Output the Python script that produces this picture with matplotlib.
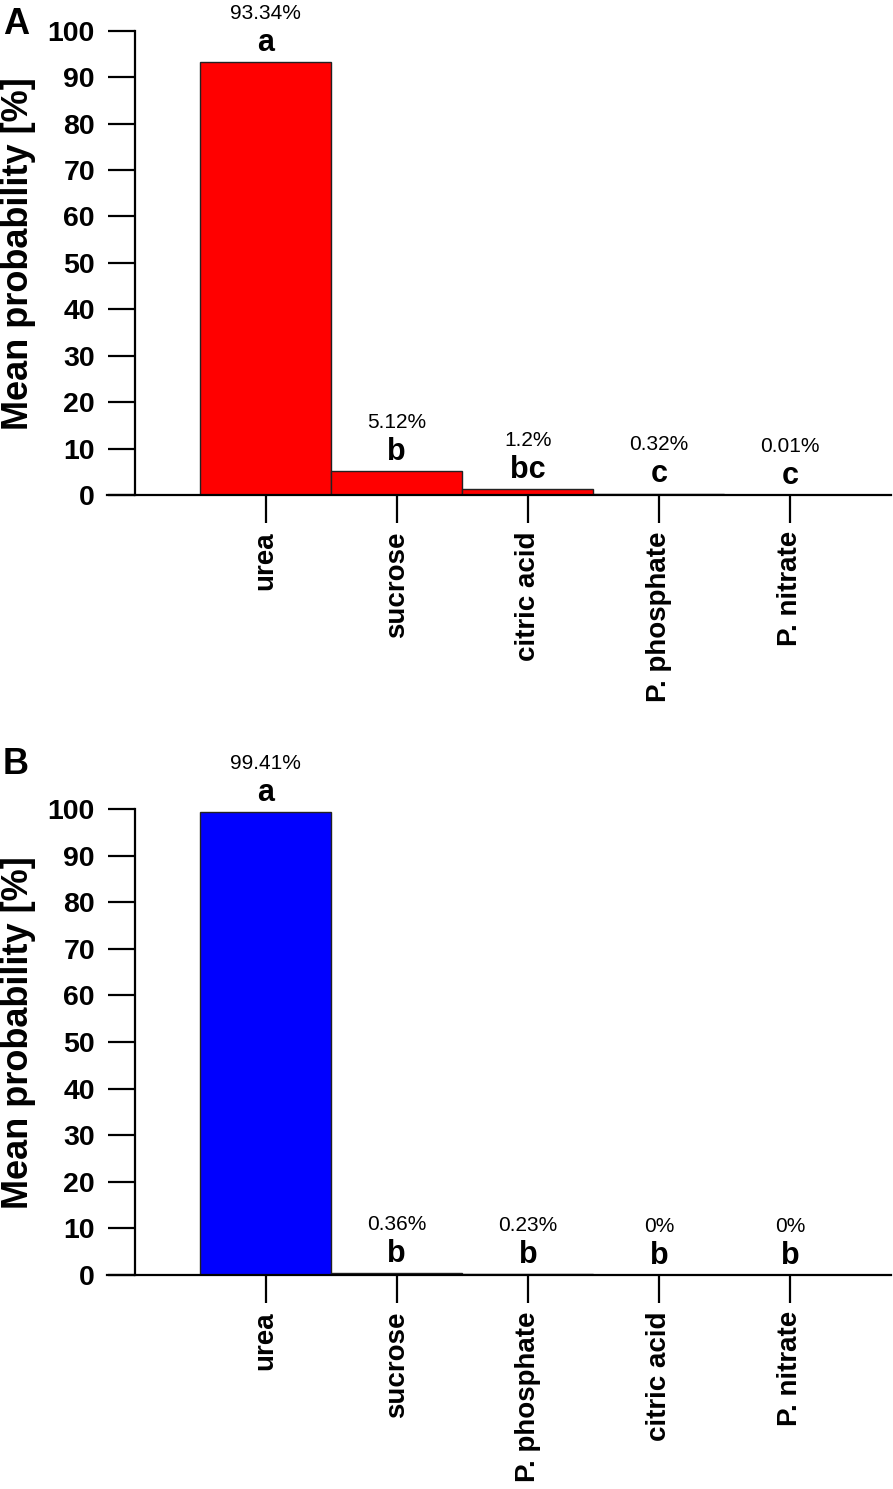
import matplotlib
matplotlib.use("Agg")
import matplotlib.pyplot as plt

plt.rcParams['font.family'] = ['Liberation Sans', 'DejaVu Sans']

# panel A data
cats_a = ["urea", "sucrose", "citric acid", "P. phosphate", "P. nitrate"]
vals_a = [93.34, 5.12, 1.2, 0.32, 0.01]
pct_a = ["93.34%", "5.12%", "1.2%", "0.32%", "0.01%"]
grp_a = ["a", "b", "bc", "c", "c"]

# panel B data
cats_b = ["urea", "sucrose", "P. phosphate", "citric acid", "P. nitrate"]
vals_b = [99.41, 0.36, 0.23, 0, 0]
pct_b = ["99.41%", "0.36%", "0.23%", "0%", "0%"]
grp_b = ["a", "b", "b", "b", "b"]

yticks = [0, 10, 20, 30, 40, 50, 60, 70, 80, 90, 100]

W, H = 893, 1489
fig = plt.figure(figsize=(W / 100, H / 100), dpi=100)


def draw_panel(rect, cats, vals, pcts, grps, color, letter, letter_y):
    ax = fig.add_axes(rect)
    x = list(range(len(cats)))
    ax.bar(x, vals, width=1.0, color=color, edgecolor="#222222", linewidth=1.0, zorder=2)
    ax.set_xlim(-1.21, 4.77)
    ax.set_ylim(0, 100)
    ax.spines["top"].set_visible(False)
    ax.spines["right"].set_visible(False)
    ax.spines["left"].set_position(("data", -1))
    ax.spines["left"].set_linewidth(1.6)
    ax.spines["bottom"].set_linewidth(1.6)
    ax.spines["bottom"].set_zorder(3)
    ax.set_yticks(yticks)
    ax.set_yticklabels([str(t) for t in yticks], fontsize=20.5, fontweight="bold")
    ax.set_xticks(x)
    ax.set_xticklabels(cats, rotation=90, fontsize=20, fontweight="bold", va="top")
    ax.tick_params(axis="y", direction="out", length=19.5, width=1.6, pad=9)
    ax.tick_params(axis="x", direction="out", length=20, width=1.6, pad=6)
    ax.patch.set_visible(False)

    for xi, v, p, g in zip(x, vals, pcts, grps):
        ax.annotate(g, (xi, v), xytext=(0, 8), textcoords="offset points",
                    ha="center", va="baseline", fontsize=22, fontweight="bold")
        ax.annotate(p, (xi, v), xytext=(0, 31), textcoords="offset points",
                    ha="center", va="baseline", fontsize=15)

    cy = rect[1] + rect[3] / 2 + 0.006
    fig.text(19 / W, cy, "Mean probability [%]", rotation=90, ha="center",
             va="center", fontsize=26, fontweight="bold")
    fig.text(3 / W, letter_y, letter, ha="left", va="top", fontsize=26,
             fontweight="bold")
    return ax


left = 107 / W
width = (891 - 107) / W
draw_panel([left, 1 - 495 / H, width, (495 - 30.7) / H], cats_a, vals_a, pct_a,
           grp_a, "#ff0000", "A", 1 - 7 / H)
draw_panel([left, 1 - 1275 / H, width, (1275 - 809) / H], cats_b, vals_b, pct_b,
           grp_b, "#0000ff", "B", 1 - 747 / H)

fig.savefig("out.png", dpi=100)
